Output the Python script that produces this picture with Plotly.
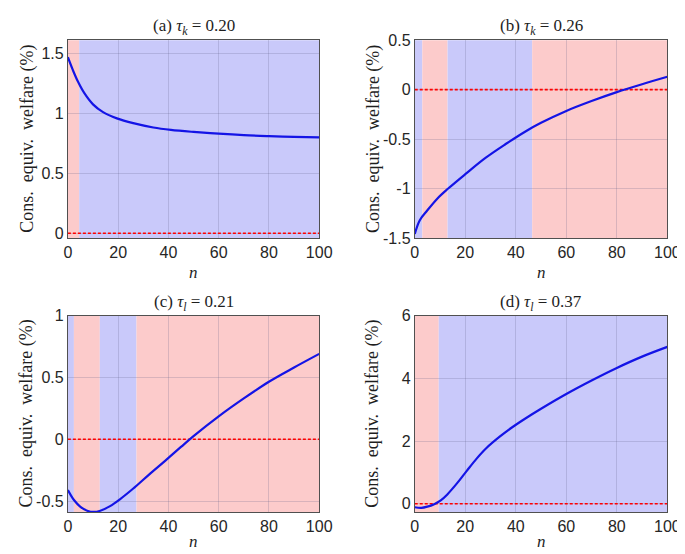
import plotly.graph_objects as go

# ---------------- data ----------------
n_a = [0, 2, 4, 6.5, 10, 14, 19.5, 26, 34, 41, 50, 60, 70, 80, 90, 100]
w_a = [1.468, 1.36, 1.265, 1.17, 1.075, 1.01, 0.958, 0.918, 0.882, 0.862, 0.845, 0.830, 0.818, 0.810, 0.804, 0.800]

n_b = [0, 2, 5, 9, 13, 20, 28, 36, 44, 50, 60, 70, 80, 90, 100]
w_b = [-1.46, -1.32, -1.22, -1.10, -1.005, -0.855, -0.69, -0.55, -0.42, -0.335, -0.215, -0.115, -0.025, 0.055, 0.13]

n_c = [0, 2.5, 5, 7.7, 10.3, 12.9, 16.8, 20.7, 25.9, 32.3, 38.8, 45, 50, 60, 70, 80, 90, 100]
w_c = [-0.41, -0.493, -0.546, -0.577, -0.587, -0.577, -0.54, -0.485, -0.40, -0.285, -0.172, -0.062, 0.025, 0.185, 0.33, 0.465, 0.58, 0.69]

n_d = [0, 2.6, 5, 7.7, 10.3, 12.9, 16.7, 20.6, 24.5, 28.3, 33.5, 38.6, 43.8, 50, 60, 70, 80, 90, 100]
w_d = [-0.11, -0.13, -0.09, -0.01, 0.11, 0.30, 0.65, 1.05, 1.44, 1.77, 2.13, 2.44, 2.72, 3.03, 3.50, 3.93, 4.33, 4.69, 5.0]

# regime bands: (start, end, kind)
bands_a = [(0, 4.5, "r"), (4.5, 100, "b")]
bands_b = [(0, 3, "b"), (3, 13, "r"), (13, 46.5, "b"), (46.5, 100, "r")]
bands_c = [(0, 2.4, "b"), (2.4, 12.7, "r"), (12.7, 27.3, "b"), (27.3, 100, "r")]
bands_d = [(0, 9.5, "r"), (9.5, 100, "b")]

titles = ["(a) <i>τ</i><sub><i>k</i></sub> = 0.20",
          "(b) <i>τ</i><sub><i>k</i></sub> = 0.26",
          "(c) <i>τ</i><sub><i>l</i></sub> = 0.21",
          "(d) <i>τ</i><sub><i>l</i></sub> = 0.37"]

yranges = [[-0.04, 1.61], [-1.5, 0.5], [-0.59, 1.0], [-0.27, 6.0]]
ytickvals = [[0, 0.5, 1, 1.5], [-1.5, -1, -0.5, 0, 0.5], [-0.5, 0, 0.5, 1], [0, 2, 4, 6]]
yticktext = [["0", "0.5", "1", "1.5"], ["-1.5", "-1", "-0.5", "0", "0.5"],
             ["-0.5", "0", "0.5", "1"], ["0", "2", "4", "6"]]
xtickvals = [0, 20, 40, 60, 80, 100]

# ---------------- layout ----------------
W, H = 685, 554
boxes = [  # left, right, top, bottom in px
    (57.3, 315, 25, 229),
    (413, 672, 25, 229),
    (57.3, 315, 309, 512),
    (413, 672, 309, 512),
]
nlabel_y = [265, 265, 542, 542]

BLUE_BAND = "rgb(201,201,250)"
RED_BAND = "rgb(252,203,203)"
LINE_BLUE = "rgb(20,20,230)"

fig = go.Figure()
series = [(n_a, w_a), (n_b, w_b), (n_c, w_c), (n_d, w_d)]
all_bands = [bands_a, bands_b, bands_c, bands_d]

serif = "Liberation Serif"
sans = "Liberation Sans"

shapes = []
annotations = []
for i, ((nx, wy), bands) in enumerate(zip(series, all_bands)):
    k = "" if i == 0 else str(i + 1)
    xa, ya = "x" + k, "y" + k
    fig.add_trace(go.Scatter(x=[0, 100], y=[0, 0], mode="lines",
                             line=dict(color="red", width=1.6, dash="3px,2px"),
                             xaxis=xa, yaxis=ya, showlegend=False, hoverinfo="skip"))
    fig.add_trace(go.Scatter(x=nx, y=wy, mode="lines",
                             line=dict(color=LINE_BLUE, width=2.2, shape="spline", smoothing=1.0),
                             xaxis=xa, yaxis=ya, showlegend=False))
    for (s, e, kind) in bands:
        shapes.append(dict(type="rect", xref=xa, yref=ya + " domain", x0=s, x1=e, y0=0, y1=1,
                           fillcolor=BLUE_BAND if kind == "b" else RED_BAND,
                           line=dict(width=0), layer="below"))
    l, r, t, b = boxes[i]
    xd = [l / W, r / W]
    yd = [1 - b / H, 1 - t / H]
    axis_common = dict(showline=True, mirror=True, linecolor="rgb(80,80,80)", linewidth=1,
                       showgrid=True, gridcolor="rgba(90,90,130,0.22)", gridwidth=1,
                       zeroline=False, ticks="", tickfont=dict(family=sans, size=16, color="rgb(38,38,38)"))
    fig.layout["xaxis" + k] = dict(domain=xd, range=[0, 100], tickvals=xtickvals,
                                   anchor=ya, **axis_common)
    fig.layout["yaxis" + k] = dict(domain=yd, range=yranges[i], tickvals=ytickvals[i],
                                   ticktext=yticktext[i], anchor=xa, **axis_common)
    cx = (l + r) / 2 / W
    annotations.append(dict(text=titles[i], x=cx, y=1 - t / H, xref="paper", yref="paper",
                            xanchor="center", yanchor="bottom", showarrow=False, yshift=0,
                            font=dict(family=serif, size=17, color="rgb(30,30,30)")))
    annotations.append(dict(text="<i>n</i>", x=cx, y=1 - nlabel_y[i] / H, xref="paper", yref="paper",
                            xanchor="center", yanchor="middle", showarrow=False,
                            font=dict(family=serif, size=17, color="rgb(30,30,30)")))
    ylx = 15 if i % 2 == 0 else 370
    annotations.append(dict(text="Cons.  equiv.  welfare (%)", x=ylx / W, y=1 - (t + b) / 2 / H,
                            xref="paper", yref="paper", xanchor="center", yanchor="middle",
                            textangle=-90, showarrow=False,
                            font=dict(family=serif, size=18, color="rgb(30,30,30)")))

fig.update_layout(width=W, height=H, margin=dict(l=0, r=0, t=0, b=0),
                  paper_bgcolor="white", plot_bgcolor="white",
                  shapes=shapes, annotations=annotations)

fig.write_html("out.html")
